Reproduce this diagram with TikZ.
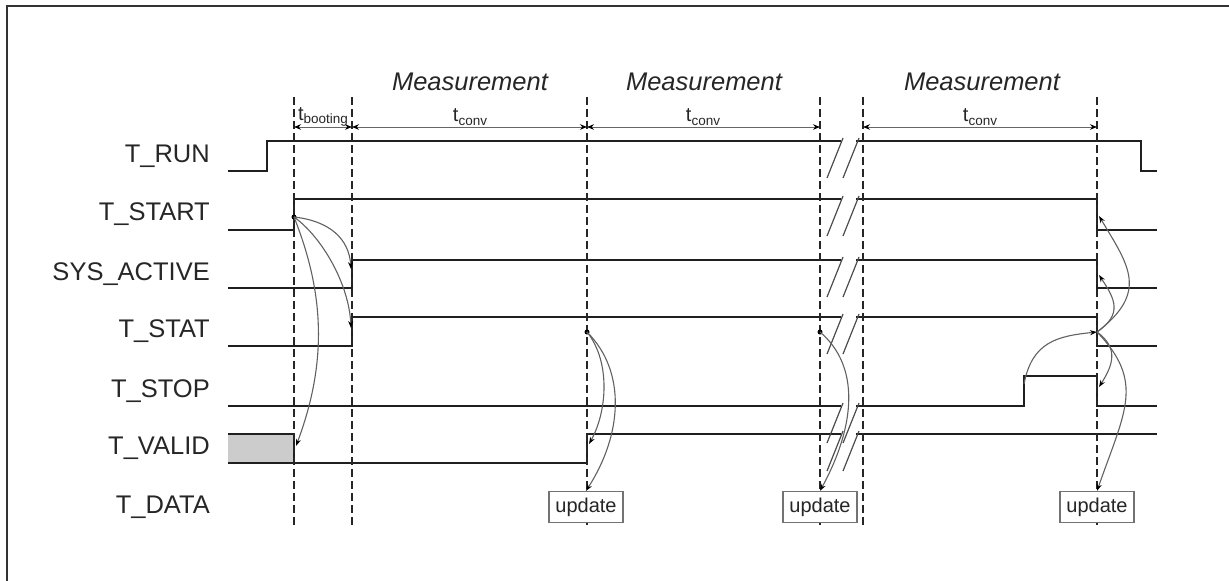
\documentclass[tikz,border=0pt]{standalone}
\usepackage{fontspec}
\setmainfont{Liberation Sans}
\usetikzlibrary{arrows.meta,positioning}

\newcommand{\tsub}[1]{{\fontsize{20}{24}\selectfont t}\raisebox{-3.5pt}{\fontsize{13.5}{16}\selectfont #1}}

\begin{document}
\begin{tikzpicture}[x=1pt,y=-1pt,
    wave/.style={line width=2.2pt,draw=black!88},
    guide/.style={line width=1.8pt,dash pattern=on 8pt off 4pt,draw=black!85},
    dimline/.style={line width=0.9pt,draw=black!60,{Stealth[length=7pt,width=5.5pt,color=black]}-{Stealth[length=7pt,width=5.5pt,color=black]}},
    cause/.style={line width=1.1pt,draw=black!62,-{Stealth[length=7pt,width=5pt,color=black]}},
    brk/.style={line width=1.2pt,draw=black!70},
    siglabel/.style={anchor=east,inner sep=0pt,text=black!85,font=\fontsize{25.5}{30}\selectfont},
    meas/.style={inner sep=0pt,text=black!85,font=\fontsize{25.5}{30}\selectfont\itshape},
    tlabel/.style={inner sep=0pt,text=black!85},
    updbox/.style={draw=black!55,line width=1.2pt,fill=white,minimum width=74pt,minimum height=31pt,inner sep=0pt,text=black!85,font=\fontsize{20}{24}\selectfont},
    dot/.style={circle,fill=black,inner sep=0pt,minimum size=5pt}]

    \useasboundingbox (0,0) rectangle (1229,581);
    \draw[line width=1.8pt,black!80] (7,581) -- (7,6) -- (1229,6);

    % signal names
    \node[siglabel] (sig1) at (210,156) {T\_RUN};
    \node[siglabel] (sig2) at (210,214) {T\_START};
    \node[siglabel] (sig3) at (210,274) {SYS\_ACTIVE};
    \node[siglabel] (sig4) at (210,331) {T\_STAT};
    \node[siglabel] (sig5) at (210,391) {T\_STOP};
    \node[siglabel] (sig6) at (210,448) {T\_VALID};
    \node[siglabel] (sig7) at (210,507) {T\_DATA};

    % waveforms
    \draw[wave] (228,171) -- (267,171) -- (267,141) -- (1141,141) -- (1141,171) -- (1157,171);
    \draw[wave] (228,230) -- (294,230) -- (294,199) -- (1097,199) -- (1097,230) -- (1157,230);
    \draw[wave] (228,288) -- (352,288) -- (352,260) -- (1097,260) -- (1097,288) -- (1157,288);
    \draw[wave] (228,346) -- (352,346) -- (352,317) -- (1097,317) -- (1097,346) -- (1157,346);
    \draw[wave] (228,406) -- (1024,406) -- (1024,376) -- (1097,376) -- (1097,406) -- (1157,406);
    \fill[black!20] (228,434) rectangle (294,463);
    \draw[wave] (228,434) -- (294,434) -- (294,463);
    \draw[wave] (228,463) -- (587,463) -- (587,434) -- (1157,434);

    % time break
    \fill[white] (841,136) rectangle (856,146);
    \fill[white] (841,194) rectangle (856,204);
    \fill[white] (841,255) rectangle (856,265);
    \fill[white] (841,312) rectangle (856,322);
    \fill[white] (841,401) rectangle (856,411);
    \fill[white] (841,429) rectangle (856,439);
    \draw[brk] (843,138) -- (827,178) (859,138) -- (843,178);
    \draw[brk] (843,196) -- (827,236) (859,196) -- (843,236);
    \draw[brk] (843,257) -- (827,297) (859,257) -- (843,297);
    \draw[brk] (843,314) -- (827,354) (859,314) -- (843,354);
    \draw[brk] (843,403) -- (827,443) (859,403) -- (843,443);
    \draw[brk] (843,431) -- (827,471) (859,431) -- (843,471);

    % event lines
    \draw[guide] (294,97) -- (294,527);
    \draw[guide] (352,97) -- (352,527);
    \draw[guide] (587,97) -- (587,527);
    \draw[guide] (820,97) -- (820,527);
    \draw[guide] (863,97) -- (863,527);
    \draw[guide] (1097,97) -- (1097,527);

    % durations
    \coordinate (e1) at (294,127);
    \coordinate (e2) at (352,127);
    \coordinate (e3) at (587,127);
    \coordinate (e4) at (820,127);
    \coordinate (e5) at (863,127);
    \coordinate (e6) at (1097,127);
    \draw[dimline] (e1) -- (e2);
    \draw[dimline] (e2) -- (e3);
    \draw[dimline] (e3) -- (e4);
    \draw[dimline] (e5) -- (e6);
    \node[tlabel] (tboot) at (323,117) {\tsub{booting}};
    \node[tlabel] (tconv1) at (470,117) {\tsub{conv}};
    \node[tlabel] (tconv2) at (703,117) {\tsub{conv}};
    \node[tlabel] (tconv3) at (980,117) {\tsub{conv}};
    \node[meas] (meas1) at (470,82) {Measurement};
    \node[meas] (meas2) at (704,82) {Measurement};
    \node[meas] (meas3) at (982,82) {Measurement};

    % data updates
    \node[updbox] (upd1) at (586,507) {update};
    \node[updbox] (upd2) at (820,507) {update};
    \node[updbox] (upd3) at (1097,507) {update};

    % causes
    \node[dot] (startup) at (294,217) {};
    \node[dot] (read1) at (587,332) {};
    \node[dot] (read2) at (820,332) {};
    \coordinate (read3) at (1097,332);
    \coordinate (sysup) at (351,269);
    \coordinate (statup) at (351,328);
    \coordinate (validup1) at (296,446);
    \coordinate (validup2) at (589,444);
    \coordinate (stoprise) at (1024,384);
    \coordinate (startdown) at (1099,216);
    \coordinate (sysdown) at (1099,275);
    \coordinate (stopdown) at (1099,387);

    \draw[cause] (startup.center) .. controls +(36,4) and +(-2,-30) .. (sysup);
    \draw[cause] (startup.center) .. controls +(28,20) and +(-2,-44) .. (statup);
    \draw[cause] (startup.center) .. controls +(32,80) and +(30,-80) .. (validup1);
    \draw[cause] (read1.center) .. controls +(24,30) and +(18,-32) .. (validup2);
    \draw[cause] (read1.center) .. controls +(40,40) and +(36,-56) .. (upd1.north);
    \draw[cause] (read2.center) .. controls +(40,34) and +(36,-66) .. (upd2.north);
    \draw[cause] (stoprise) .. controls +(8,-42) and +(-40,4) .. (read3);
    \draw[cause] (read3) .. controls +(26,-18) and +(16,24) .. (sysdown);
    \draw[cause] (read3) .. controls +(52,-40) and +(30,50) .. (startdown);
    \draw[cause] (read3) .. controls +(22,16) and +(14,-22) .. (stopdown);
    \draw[cause] (read3) .. controls +(48,50) and +(28,-80) .. (upd3.north);
\end{tikzpicture}
\end{document}
